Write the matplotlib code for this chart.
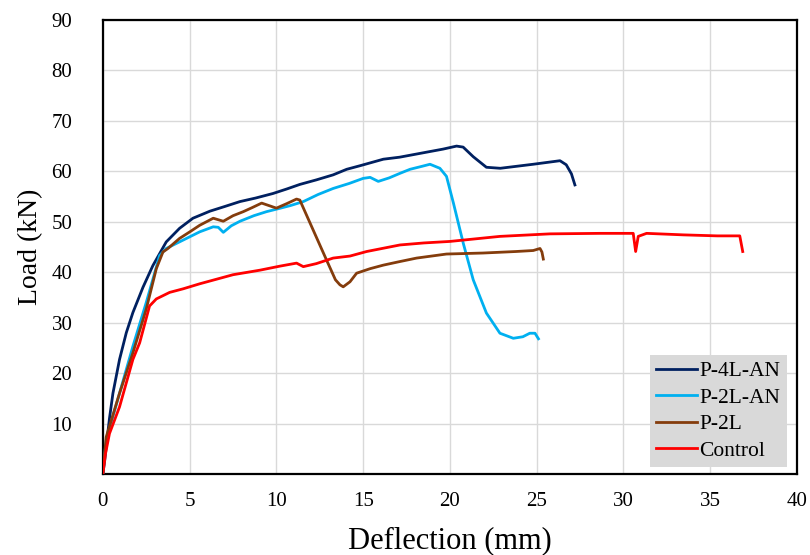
import numpy as np
import matplotlib.pyplot as plt

plt.rcParams['font.family'] = ['Liberation Serif', 'DejaVu Serif']

# Load-deflection data (deflection mm, load kN)
d_4lan = [0, 0.1, 0.19, 0.38, 0.58, 0.96, 1.35, 1.73, 2.31, 2.88, 3.65, 4.42, 5.19, 6.17, 7.0,
          7.9, 8.8, 9.8, 10.6, 11.35, 12.3, 13.27, 14.05, 14.81, 16.16, 17.1, 18.66, 19.6,
          20.38, 20.76, 21.34, 22.1, 22.9, 24.8, 26.34, 26.7, 27.0, 27.2]
l_4lan = [0, 2.5, 5.3, 11.0, 16.0, 22.7, 28.0, 32.0, 37.0, 41.3, 46.0, 48.7, 50.7, 52.1, 53.0,
          54.0, 54.7, 55.6, 56.5, 57.4, 58.3, 59.3, 60.4, 61.1, 62.4, 62.8, 63.8, 64.4,
          65.0, 64.8, 62.9, 60.8, 60.6, 61.4, 62.1, 61.3, 59.5, 57.3]

d_2lan = [0, 0.19, 0.96, 1.73, 2.5, 3.27, 3.65, 4.82, 5.58, 6.36, 6.65, 6.94, 7.4, 7.9, 8.7,
          9.43, 10.01, 10.8, 11.55, 12.4, 13.27, 14.2, 15.0, 15.4, 15.87, 16.5, 17.12, 17.7,
          18.4, 18.85, 19.42, 19.8, 20.2, 20.77, 21.34, 22.1, 22.88, 23.65, 24.2, 24.6, 24.9, 25.1]
l_2lan = [0, 6.7, 16.0, 25.3, 34.0, 43.3, 44.7, 46.7, 48.0, 49.0, 48.9, 47.9, 49.2, 50.1, 51.2,
          52.0, 52.5, 53.2, 54.0, 55.4, 56.6, 57.6, 58.6, 58.8, 58.0, 58.7, 59.6, 60.4,
          61.0, 61.4, 60.6, 59.0, 53.7, 45.7, 38.5, 31.9, 27.9, 26.9, 27.2, 27.9, 27.9, 26.8]

d_2l = [0, 0.19, 0.96, 1.73, 2.5, 3.08, 3.46, 3.75, 4.42, 5.01, 5.58, 6.36, 6.94, 7.5, 8.09, 8.6,
        9.15, 10.0, 10.6, 11.16, 11.35, 12.1, 12.89, 13.4, 13.66, 13.85, 14.24, 14.62, 15.4,
        16.16, 17.1, 18.08, 19.8, 21.9, 23.8, 24.8, 25.19, 25.3, 25.38]
l_2l = [0, 7.3, 16.0, 24.0, 32.7, 40.7, 44.0, 44.7, 46.7, 48.0, 49.3, 50.7, 50.1, 51.2, 52.0, 52.8,
        53.7, 52.7, 53.6, 54.5, 54.3, 48.5, 42.4, 38.5, 37.5, 37.1, 38.1, 39.8, 40.7,
        41.4, 42.1, 42.8, 43.6, 43.8, 44.1, 44.3, 44.7, 44.0, 42.6]

d_ctrl = [0, 0.15, 0.38, 0.96, 1.73, 2.12, 2.69, 3.08, 3.85, 4.62, 5.58, 7.5, 9.05, 10.2,
          11.16, 11.55, 12.3, 13.27, 14.24, 15.2, 17.12, 18.5, 20.0, 22.88, 25.76, 28.65,
          30.56, 30.7, 30.85, 31.33, 33.45, 35.4, 36.7, 36.87]
l_ctrl = [0, 4.0, 8.0, 13.3, 22.7, 26.0, 33.3, 34.7, 36.0, 36.7, 37.7, 39.5, 40.4, 41.2,
          41.8, 41.1, 41.7, 42.8, 43.2, 44.1, 45.4, 45.8, 46.1, 47.1, 47.6, 47.7,
          47.7, 44.1, 47.1, 47.7, 47.4, 47.2, 47.2, 44.1]

fig, ax = plt.subplots(figsize=(8.1, 5.55), dpi=100)
fig.subplots_adjust(left=0.127, right=0.984, bottom=0.146, top=0.964)

ax.plot(d_4lan, l_4lan, color='#002060', linewidth=2.0, label='P-4L-AN', zorder=3)
ax.plot(d_2lan, l_2lan, color='#00b0f0', linewidth=2.0, label='P-2L-AN', zorder=3)
ax.plot(d_2l, l_2l, color='#843c0c', linewidth=2.0, label='P-2L', zorder=3)
ax.plot(d_ctrl, l_ctrl, color='#ff0000', linewidth=2.0, label='Control', zorder=3)

ax.set_xlim(0, 40)
ax.set_ylim(0, 90)
ax.set_xticks(np.arange(0, 41, 5))
ax.set_yticks(np.arange(0, 91, 10))
ax.set_yticklabels([''] + [str(v) for v in range(10, 91, 10)])
ax.tick_params(length=0, labelsize=15)
ax.tick_params(axis='x', pad=13)
ax.tick_params(axis='y', pad=22)
ax.grid(True, color='#d9d9d9', linewidth=1)
ax.set_axisbelow(True)
for s in ax.spines.values():
    s.set_color('black')
    s.set_linewidth(1.6)

ax.set_xlabel('Deflection (mm)', fontsize=22, labelpad=11)
ax.set_ylabel('Load (kN)', fontsize=20, labelpad=6)

leg = ax.legend(loc='lower right', bbox_to_anchor=(0.985, 0.015), fontsize=15.5,
                frameon=True, fancybox=False, borderaxespad=0, handlelength=1.9,
                handletextpad=0.1, labelspacing=0.3, borderpad=0.3)
leg.get_frame().set_facecolor('#d9d9d9')
leg.get_frame().set_edgecolor('none')
leg.get_frame().set_alpha(1)

fig.savefig('out.png', dpi=100)
